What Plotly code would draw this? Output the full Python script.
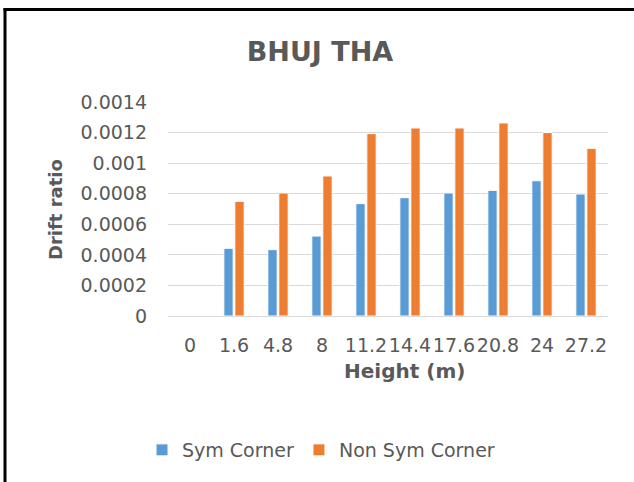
import plotly.graph_objects as go

heights = ["0", "1.6", "4.8", "8", "11.2", "14.4", "17.6", "20.8", "24", "27.2"]
sym_corner = [0, 0.000443, 0.000434, 0.000523, 0.000735, 0.000774, 0.000805, 0.000822, 0.000885, 0.000798]
non_sym_corner = [0, 0.00075, 0.000805, 0.000916, 0.001193, 0.00123, 0.00123, 0.001263, 0.0012, 0.001097]

FONT = "DejaVu Sans"
GREY = "#595959"

W, H = 634, 482
L, R, T, B = 168, 26, 102, 166
PW, PH = W - L - R, H - T - B


def px_x(x):
    return (x - L) / PW


def px_y(y):
    return (H - B - y) / PH


fig = go.Figure()
fig.add_trace(go.Bar(x=heights, y=sym_corner, name="Sym Corner",
                     marker=dict(color="#5B9BD5", line=dict(color="white", width=1))))
fig.add_trace(go.Bar(x=heights, y=non_sym_corner, name="Non Sym Corner",
                     marker=dict(color="#ED7D31", line=dict(color="white", width=1))))

fig.update_layout(
    width=W, height=H,
    margin=dict(l=L, r=R, t=T, b=B),
    paper_bgcolor="white", plot_bgcolor="white",
    font=dict(family=FONT, color=GREY, size=19),
    bargap=0.5, bargroupgap=0.15,
    title=dict(text="<b>BHUJ THA</b>", x=320 / W, xanchor="center", xref="container",
               y=1 - 52 / H, yanchor="middle", yref="container",
               font=dict(size=27, color=GREY, family=FONT)),
    showlegend=True,
    legend=dict(orientation="h", x=321 / W, xanchor="center", xref="container",
                y=1 - 450 / H, yref="container", yanchor="middle",
                font=dict(size=19, color=GREY, family=FONT), itemwidth=30),
    xaxis=dict(type="category", tickangle=0, showgrid=False, showline=False, zeroline=False,
               ticks="", ticklabelstandoff=16, tickfont=dict(size=19, color=GREY, family=FONT)),
    yaxis=dict(range=[0, 0.0014], dtick=0.0002, tick0=0, showgrid=True, gridcolor="#D9D9D9",
               gridwidth=1, zeroline=True, zerolinecolor="#D9D9D9", zerolinewidth=1,
               showline=False, ticks="", ticklabelstandoff=20,
               tickfont=dict(size=19, color=GREY, family=FONT)),
    annotations=[
        dict(text="<b>Height (m)</b>", xref="paper", yref="paper", x=px_x(404), y=px_y(371),
             xanchor="center", yanchor="middle", showarrow=False,
             font=dict(size=20, color=GREY, family=FONT)),
        dict(text="<b>Drift ratio</b>", xref="paper", yref="paper", x=px_x(55), y=px_y(210),
             xanchor="center", yanchor="middle", showarrow=False, textangle=-90,
             font=dict(size=18, color=GREY, family=FONT)),
    ],
    shapes=[
        dict(type="line", xref="paper", yref="paper",
             x0=px_x(5), x1=px_x(5), y0=px_y(8), y1=px_y(500),
             line=dict(color="black", width=3)),
        dict(type="line", xref="paper", yref="paper",
             x0=px_x(3.5), x1=px_x(650), y0=px_y(9.5), y1=px_y(9.5),
             line=dict(color="black", width=3)),
    ],
)

fig.write_html("out.html", config={"displayModeBar": False},
               post_script="document.body.style.margin='0';")
